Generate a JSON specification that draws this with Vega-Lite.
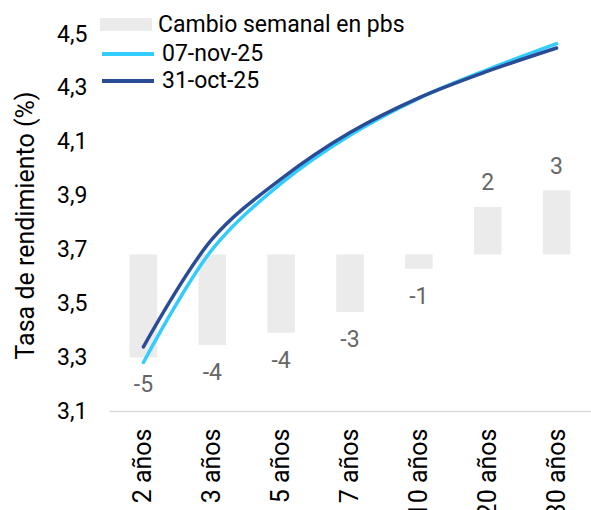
{
  "$schema": "https://vega.github.io/schema/vega-lite/v6.json",
  "autosize": {"type": "none"},
  "width": 482,
  "height": 377,
  "padding": {"left": 109, "top": 34, "right": 0, "bottom": 99},
  "background": "white",
  "config": {
    "view": {"stroke": null},
    "font": "Roboto",
    "legend": {"padding": 0, "offset": 0},
    "locale": {
      "number": {"decimal": ",", "thousands": ".", "grouping": [3], "currency": ["", " €"], "minus": "-"}
    }
  },
  "datasets": {
    "bars": [
      {"tenor": "2 años", "change": -5.0},
      {"tenor": "3 años", "change": -4.4},
      {"tenor": "5 años", "change": -3.8},
      {"tenor": "7 años", "change": -2.8},
      {"tenor": "10 años", "change": -0.7},
      {"tenor": "20 años", "change": 2.3},
      {"tenor": "30 años", "change": 3.1}
    ],
    "curves": [
      {"tenor": "2 años", "serie": "07-nov-25", "yield": 3.280},
      {"tenor": "3 años", "serie": "07-nov-25", "yield": 3.700},
      {"tenor": "5 años", "serie": "07-nov-25", "yield": 3.945},
      {"tenor": "7 años", "serie": "07-nov-25", "yield": 4.124},
      {"tenor": "10 años", "serie": "07-nov-25", "yield": 4.261},
      {"tenor": "20 años", "serie": "07-nov-25", "yield": 4.368},
      {"tenor": "30 años", "serie": "07-nov-25", "yield": 4.464},
      {"tenor": "2 años", "serie": "31-oct-25", "yield": 3.338},
      {"tenor": "3 años", "serie": "31-oct-25", "yield": 3.739},
      {"tenor": "5 años", "serie": "31-oct-25", "yield": 3.962},
      {"tenor": "7 años", "serie": "31-oct-25", "yield": 4.134},
      {"tenor": "10 años", "serie": "31-oct-25", "yield": 4.263},
      {"tenor": "20 años", "serie": "31-oct-25", "yield": 4.362},
      {"tenor": "30 años", "serie": "31-oct-25", "yield": 4.448}
    ]
  },
  "encoding": {
    "x": {
      "field": "tenor",
      "type": "nominal",
      "sort": ["2 años", "3 años", "5 años", "7 años", "10 años", "20 años", "30 años"],
      "scale": {"paddingInner": 0.6, "paddingOuter": 0.3},
      "axis": {
        "title": null,
        "labelAngle": -90,
        "labelFontSize": 25,
        "labelColor": "#000000",
        "labelPadding": 17,
        "ticks": false,
        "tickSize": 0,
        "domainColor": "#D9D9D9",
        "domainWidth": 1.5,
        "grid": false
      }
    }
  },
  "layer": [
    {
      "data": {"name": "bars"},
      "layer": [
        {
          "mark": {"type": "bar", "color": "#EBEBEB"},
          "encoding": {
            "y": {"field": "change", "type": "quantitative", "scale": {"domain": [-7.6, 10.7], "zero": false, "nice": false}, "axis": null},
            "fill": {
              "datum": "Cambio semanal en pbs",
              "scale": {"range": ["#EBEBEB"]},
              "legend": {
                "title": null,
                "orient": "none",
                "legendX": 4,
                "legendY": -22.5,
                "symbolType": "M-2,-0.5H2V0.5H-2Z",
                "symbolSize": 676,
                "symbolStrokeWidth": 0,
                "symbolOpacity": 1,
                "labelFontSize": 23,
                "labelColor": "#000000",
                "labelOffset": 19,
                "labelLimit": 0
              }
            }
          }
        },
        {
          "transform": [{"filter": "datum.change < 0"}],
          "mark": {"type": "text", "fontSize": 23, "color": "#666666", "baseline": "middle", "dy": 28},
          "encoding": {
            "y": {"field": "change", "type": "quantitative", "scale": {"domain": [-7.6, 10.7], "zero": false, "nice": false}, "axis": null},
            "text": {"field": "change", "type": "quantitative", "format": ".0f"}
          }
        },
        {
          "transform": [{"filter": "datum.change > 0"}],
          "mark": {"type": "text", "fontSize": 23, "color": "#666666", "baseline": "middle", "dy": -24},
          "encoding": {
            "y": {"field": "change", "type": "quantitative", "scale": {"domain": [-7.6, 10.7], "zero": false, "nice": false}, "axis": null},
            "text": {"field": "change", "type": "quantitative", "format": ".0f"}
          }
        }
      ]
    },
    {
      "data": {"name": "curves"},
      "mark": {"type": "line", "interpolate": "catmull-rom", "strokeWidth": 3.5, "strokeCap": "round"},
      "encoding": {
        "y": {
          "field": "yield",
          "type": "quantitative",
          "scale": {"domain": [3.1, 4.5], "zero": false, "nice": false},
          "axis": {
            "title": "Tasa de rendimiento (%)",
            "titleFontSize": 25,
            "titleFontWeight": "normal",
            "titleColor": "#000000",
            "titleAngle": -90,
            "titleAlign": "center",
            "titleBaseline": "middle",
            "titleX": -84,
            "titleY": 191,
            "values": [3.1, 3.3, 3.5, 3.7, 3.9, 4.1, 4.3, 4.5],
            "format": ".1f",
            "labelFontSize": 23,
            "labelColor": "#000000",
            "labelPadding": 22,
            "ticks": false,
            "tickSize": 0,
            "domain": false,
            "grid": false
          }
        },
        "stroke": {
          "field": "serie",
          "type": "nominal",
          "scale": {"domain": ["07-nov-25", "31-oct-25"], "range": ["#33CCFF", "#2A4C96"]},
          "legend": {
            "title": null,
            "orient": "none",
            "legendX": 4,
            "legendY": 5,
            "symbolType": "M-2,0H2",
            "symbolSize": 676,
            "symbolStrokeWidth": 4,
            "labelFontSize": 23,
            "labelColor": "#000000",
            "labelOffset": 19,
            "labelLimit": 0,
            "rowPadding": 0
          }
        }
      }
    }
  ],
  "resolve": {"scale": {"y": "independent", "fill": "independent", "stroke": "independent"}}
}
